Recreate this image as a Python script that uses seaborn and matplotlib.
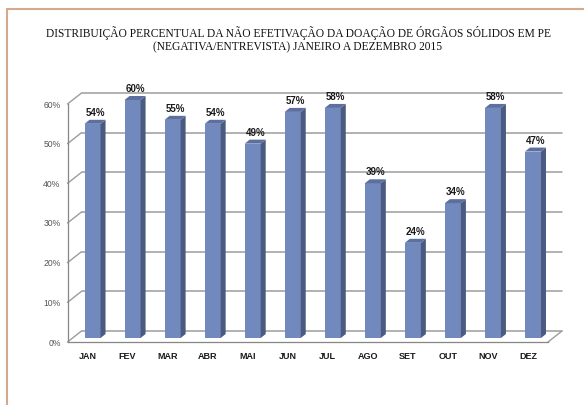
import matplotlib
matplotlib.use("Agg")
import matplotlib.pyplot as plt
from matplotlib.patches import Polygon
from matplotlib.lines import Line2D
import seaborn as sns
import pandas as pd
import numpy as np

# Monthly share of non-completed solid organ donations (family refusal / interview)
meses = ["JAN", "FEV", "MAR", "ABR", "MAI", "JUN", "JUL", "AGO", "SET", "OUT", "NOV", "DEZ"]
percentuais = [0.54, 0.60, 0.55, 0.54, 0.49, 0.57, 0.58, 0.39, 0.24, 0.34, 0.58, 0.47]
rotulos = ["54%", "60%", "55%", "54%", "49%", "57%", "58%", "39%", "24%", "34%", "58%", "47%"]
ticks_y = [0.0, 0.1, 0.2, 0.3, 0.4, 0.5, 0.6]
rotulos_y = ["0%", "10%", "20%", "30%", "40%", "50%", "60%"]

titulo = ("DISTRIBUIÇÃO PERCENTUAL DA NÃO EFETIVAÇÃO DA DOAÇÃO DE ÓRGÃOS SÓLIDOS EM PE\n"
          "(NEGATIVA/ENTREVISTA) JANEIRO A DEZEMBRO 2015")

df = pd.DataFrame({"mes": meses, "valor": percentuais})

sns.set_theme(style="white")
plt.rcParams["font.family"] = ["Liberation Sans", "DejaVu Sans"]

W, H = 584, 405
fig = plt.figure(figsize=(W / 100, H / 100), dpi=100)
fig.patch.set_facecolor("white")

# front plane of the 3-D box (pixel geometry)
x_left, x_right = 67.5, 548.0
y_zero, y_top = 342.0, 104.0
ax = fig.add_axes([x_left / W, (H - y_zero) / H,
                   (x_right - x_left) / W, (y_zero - y_top) / H])
ax.set_facecolor("none")

n = len(meses)
xmin, xmax = -0.5, n - 0.5
ymin, ymax = 0.0, 0.6
sx = (xmax - xmin) / (x_right - x_left)     # data units per pixel (x)
sy = (ymax - ymin) / (y_zero - y_top)       # data units per pixel (y)

frente = "#7189BC"
lado = "#4A5A80"
topo = "#5C6F9E"
grade = "#9C9C9C"

sns.barplot(data=df, x="mes", y="valor", color=frente, saturation=1,
            width=0.4, ax=ax, zorder=3, edgecolor="none")

# bars sit part-way into the depth of the box
bx, by = 5 * sx, 4 * sy          # offset of bar front from the front plane
dx, dy = 5 * sx, 4 * sy          # bar depth
wx, wy = 14 * sx, 11 * sy        # full box depth (back wall)

for p, v in zip(list(ax.patches), percentuais):
    p.set_x(p.get_x() + bx)
    p.set_y(by)
    p.set_clip_on(False)
    x0 = p.get_x()
    x1 = x0 + p.get_width()
    h = by + v
    ax.add_patch(Polygon([(x1, by), (x1, h), (x1 + dx, h + dy), (x1 + dx, by + dy)],
                         closed=True, facecolor=lado, edgecolor="none", zorder=3, clip_on=False))
    ax.add_patch(Polygon([(x0, h), (x1, h), (x1 + dx, h + dy), (x0 + dx, h + dy)],
                         closed=True, facecolor=topo, edgecolor="none", zorder=3, clip_on=False))

# back wall gridlines and side-wall diagonals
for t in ticks_y:
    ax.add_line(Line2D([xmin + wx, xmax + wx], [t + wy, t + wy], color=grade, lw=1.1,
                       zorder=1, clip_on=False))
    ax.add_line(Line2D([xmin, xmin + wx], [t, t + wy], color=grade, lw=1.0,
                       zorder=1, clip_on=False))
# floor right edge
ax.add_line(Line2D([xmax, xmax + wx], [0, wy], color=grade, lw=1.0, zorder=1, clip_on=False))

# data labels
for i, (v, r) in enumerate(zip(percentuais, rotulos)):
    ax.text(i + bx + dx / 2, by + v + dy + 2 * sy, r, ha="center", va="bottom",
            fontsize=7, fontweight="bold", color="#1a1a1a", zorder=4)

ax.set_xlim(xmin, xmax)
ax.set_ylim(ymin, ymax)
ax.set_xlabel("")
ax.set_ylabel("")

ax.set_yticks(ticks_y)
ax.set_yticklabels(rotulos_y)
ax.set_xticks(range(n))
ax.set_xticklabels(meses)
ax.set_xticks(np.arange(n + 1) - 0.5, minor=True)
ax.tick_params(axis="x", which="major", length=0, pad=7, labelsize=6.5, labelcolor="#1a1a1a")
ax.tick_params(axis="x", which="minor", length=3, width=0.8, color="#868686", direction="out")
ax.tick_params(axis="y", which="major", length=3, width=0.8, color="#868686", direction="out",
               pad=2, labelsize=6.2, labelcolor="#555555")
ax.tick_params(axis="y", which="minor", length=0)
for lab in ax.get_xticklabels():
    lab.set_fontweight("bold")

for s in ["top", "right"]:
    ax.spines[s].set_visible(False)
for s in ["left", "bottom"]:
    ax.spines[s].set_visible(True)
    ax.spines[s].set_color("#868686")
    ax.spines[s].set_linewidth(0.9)
ax.grid(False)

# title
fig.text(298 / W, 1 - 39.5 / H, titulo, ha="center", va="center", fontsize=8.3,
         family=["Liberation Serif", "DejaVu Serif"], color="#111111", linespacing=1.15)

# page border
borda = "#D6A98C"
fig.add_artist(Line2D([6.5 / W, 6.5 / W], [0, 1 - 9 / H], color=borda, lw=1.5,
                      transform=fig.transFigure))
fig.add_artist(Line2D([6.5 / W, 1], [1 - 9 / H, 1 - 9 / H], color=borda, lw=1.5,
                      transform=fig.transFigure))

fig.savefig("out.png", dpi=100, facecolor="white")
